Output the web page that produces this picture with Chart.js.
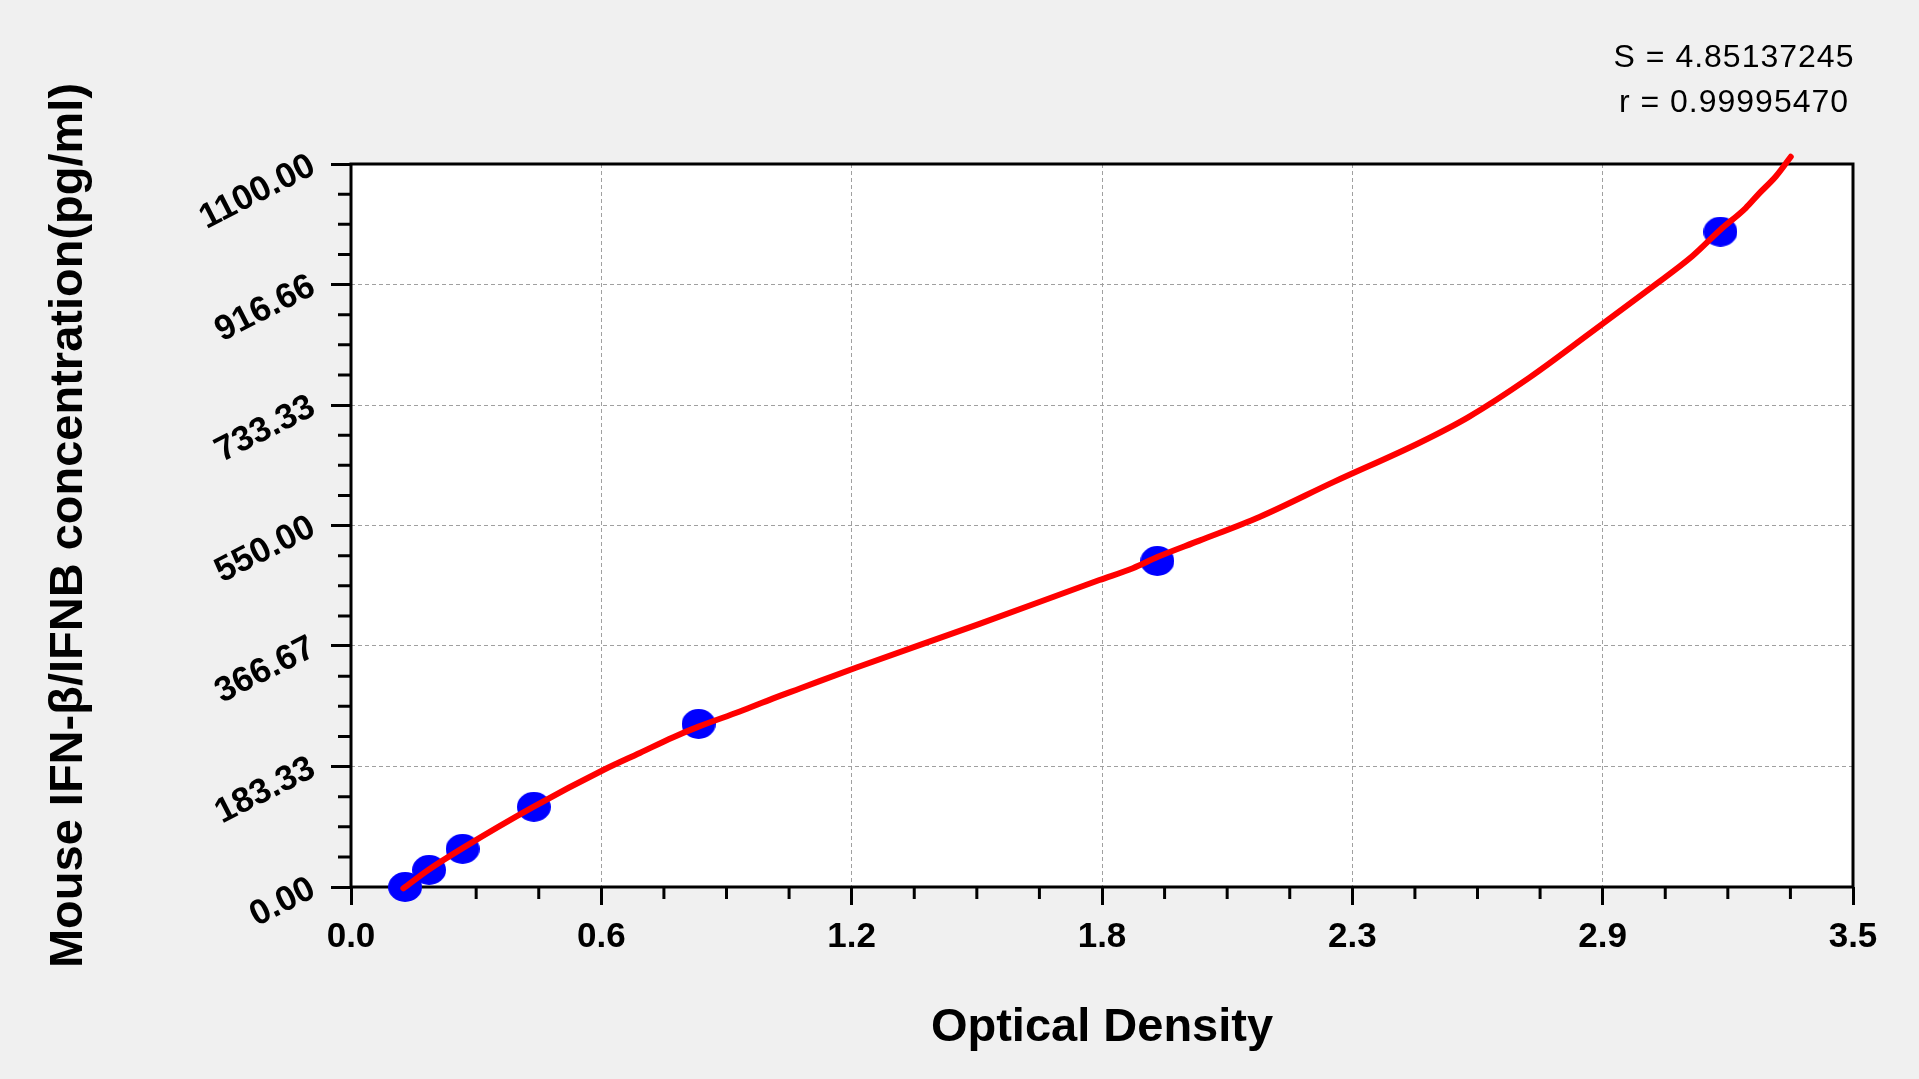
<!DOCTYPE html>
<html><head><meta charset="utf-8">
<script src="https://cdn.jsdelivr.net/npm/chart.js@4.4.0/dist/chart.umd.min.js"></script>
<style>html,body{margin:0;padding:0;background:#f0f0f0;overflow:hidden}canvas{display:block}</style>
</head><body>
<canvas id="c" width="1919" height="1079"></canvas>
<script>
// ---- data ----
const standardOD   = [0.126, 0.182, 0.260, 0.426, 0.810, 1.879, 3.191];
const standardConc = [0, 26, 58, 122, 248, 496, 997];
const curveOD   = [0.122, 0.180, 0.262, 0.425, 0.588, 0.673, 0.751, 0.810, 0.906, 0.984, 1.046, 1.178, 1.463, 1.744, 1.822, 1.879, 1.977, 2.117, 2.289, 2.490, 2.604, 2.746, 2.888, 3.030, 3.126, 3.191, 3.250, 3.281, 3.320, 3.355];
const curveConc = [-2, 26, 60, 122, 178, 204, 228, 244, 267, 287, 302, 334, 400, 467, 485, 502, 527, 563, 616, 676, 715, 775, 843, 912, 960, 1000, 1033, 1055, 1081, 1111];
const xTickValues = [0, 0.583333, 1.166667, 1.75, 2.333333, 2.916667, 3.5];
const xTickLabels = ['0.0', '0.6', '1.2', '1.8', '2.3', '2.9', '3.5'];
const yTickValues = [0, 183.333, 366.667, 550, 733.333, 916.667, 1100];
const yTickLabels = ['0.00', '183.33', '366.67', '550.00', '733.33', '916.66', '1100.00'];
const statLines = ['S = 4.85137245', 'r = 0.99995470'];
const xTitle = 'Optical Density';
const yTitle = 'Mouse IFN-\u03B2/IFNB concentration(pg/ml)';

const FONT = '"Liberation Sans", Arial, sans-serif';

const dot = document.createElement('canvas');
dot.width = 34; dot.height = 30;
(function(){ const d = dot.getContext('2d'); d.fillStyle = '#0000ff'; d.beginPath(); d.ellipse(17, 15, 17, 15, 0, 0, Math.PI * 2); d.fill(); })();

const framePlugin = {
  id: 'frame',
  beforeDraw(chart) {
    const {ctx, chartArea: a} = chart;
    ctx.save();
    ctx.fillStyle = '#f0f0f0';
    ctx.fillRect(0, 0, chart.width, chart.height);
    ctx.fillStyle = '#ffffff';
    ctx.fillRect(a.left, a.top, a.right - a.left, a.bottom - a.top);
    ctx.restore();
  },
  beforeDatasetsDraw(chart) {
    const {ctx, chartArea: a, scales} = chart;
    ctx.save();
    ctx.strokeStyle = '#000';
    ctx.lineWidth = 3;
    ctx.strokeRect(a.left, a.top, a.right - a.left, a.bottom - a.top);
    ctx.beginPath();
    const yMax = scales.y.max, xMax = scales.x.max;
    for (let i = 1; i < 24; i++) {
      if (i % 4 === 0) continue;
      const py = scales.y.getPixelForValue(yMax * i / 24);
      ctx.moveTo(a.left - 13, py); ctx.lineTo(a.left, py);
      const px = scales.x.getPixelForValue(xMax * i / 24);
      ctx.moveTo(px, a.bottom); ctx.lineTo(px, a.bottom + 12);
    }
    ctx.stroke();
    ctx.restore();
  },
  afterDraw(chart) {
    const {ctx} = chart;
    ctx.save();
    ctx.fillStyle = '#000';
    ctx.font = '32px ' + FONT;
    ctx.textAlign = 'center';
    ctx.textBaseline = 'alphabetic';
    try { ctx.letterSpacing = '1px'; } catch (e) {}
    ctx.fillText(statLines[0], 1734, 67);
    ctx.fillText(statLines[1], 1734, 112);
    ctx.restore();
  }
};

new Chart(document.getElementById('c'), {
  type: 'scatter',
  data: {
    datasets: [
      {
        label: 'fit',
        data: curveOD.map((x, i) => ({x: x, y: curveConc[i]})),
        showLine: true,
        borderColor: '#ff0000',
        borderWidth: 6,
        borderCapStyle: 'round',
        borderJoinStyle: 'round',
        pointRadius: 0,
        fill: false,
        cubicInterpolationMode: 'monotone',
        clip: false,
        order: 0
      },
      {
        label: 'standards',
        data: standardOD.map((x, i) => ({x: x, y: standardConc[i]})),
        pointStyle: dot,
        pointRadius: 17,
        showLine: false,
        clip: false,
        order: 1
      }
    ]
  },
  options: {
    responsive: false,
    animation: false,
    devicePixelRatio: 1,
    events: [],
    layout: {padding: {left: 0, top: 164, right: 66, bottom: 0}},
    plugins: {legend: {display: false}, tooltip: {enabled: false}, title: {display: false}},
    scales: {
      x: {
        type: 'linear', position: 'bottom', min: 0, max: 3.5,
        afterFit(s) { s.height = 192; },
        afterBuildTicks(s) { s.ticks = xTickValues.map(v => ({value: v})); },
        ticks: {
          autoSkip: false, minRotation: 0, maxRotation: 0, padding: 11, color: '#000',
          font: {family: FONT, size: 35, weight: 'bold'},
          callback: (v, i) => xTickLabels[i]
        },
        grid: {color: '#a0a0a0', lineWidth: 1, drawTicks: true, tickLength: 18, tickWidth: 3, tickColor: '#000'},
        border: {display: false, dash: [4, 3]},
        title: {display: true, text: xTitle, color: '#000', font: {family: FONT, size: 47, weight: 'bold'}, padding: {top: 0, bottom: 23}}
      },
      y: {
        type: 'linear', position: 'left', min: 0, max: 1100,
        afterFit(s) { s.width = 351; },
        afterBuildTicks(s) { s.ticks = yTickValues.map(v => ({value: v})); },
        ticks: {
          autoSkip: false, minRotation: 27, maxRotation: 27, padding: 18, color: '#000',
          font: {family: FONT, size: 35, weight: 'bold'},
          callback: (v, i) => yTickLabels[i]
        },
        grid: {color: '#a0a0a0', lineWidth: 1, drawTicks: true, tickLength: 20, tickWidth: 3, tickColor: '#000'},
        border: {display: false, dash: [4, 3]},
        title: {display: true, text: yTitle, color: '#000', font: {family: FONT, size: 47, weight: 'bold'}, padding: {top: 41, bottom: 0}}
      }
    }
  },
  plugins: [framePlugin]
});
</script>
</body></html>
